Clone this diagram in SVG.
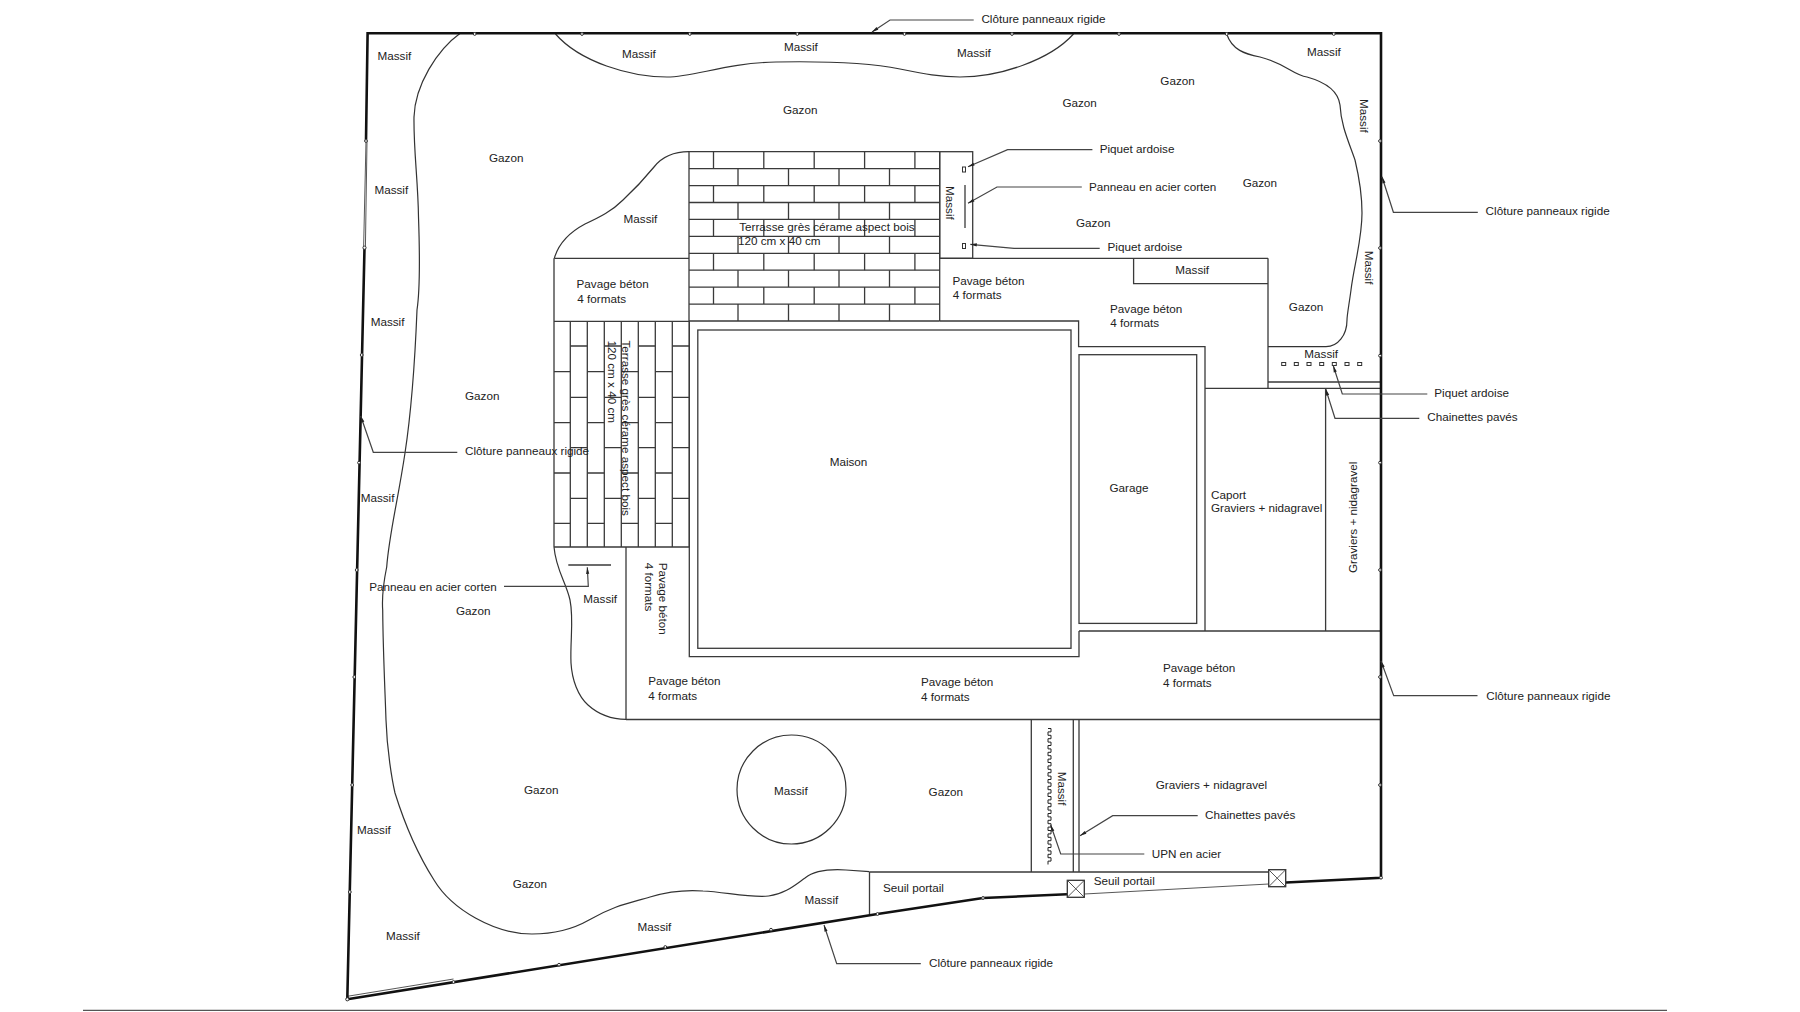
<svg xmlns="http://www.w3.org/2000/svg" width="1800" height="1012" viewBox="0 0 1800 1012">
<style>
text{font-family:"Liberation Sans",Arial,sans-serif;font-size:11.7px;fill:#222}
.w{fill:none;stroke:#3a3a3a;stroke-width:1.3}
.c{fill:none;stroke:#333;stroke-width:1.2}
.f{fill:none;stroke:#111;stroke-width:2.6}
.t{fill:none;stroke:#444;stroke-width:.9}
.l{fill:none;stroke:#444;stroke-width:1.2;marker-start:url(#ah)}
.p{fill:#fff;stroke:#333;stroke-width:1}
.g{fill:#fff;stroke:#333;stroke-width:1.3}
</style>
<defs>
<marker id="ah" markerWidth="8" markerHeight="6" refX="0" refY="2.5" orient="auto" markerUnits="userSpaceOnUse"><path d="M0 2.5L6.5 0.9V4.1z" fill="#222"/></marker>
</defs>
<rect width="1800" height="1012" fill="#fff"/>
<g id="bottom-rule"><path d="M83 1010.3H1667" fill="none" stroke="#555" stroke-width="1.2"/></g>

<g id="massif-beds">
<path class="c" d="M460.5 33C437 50 415 85 414 117C413.5 150 418 180 418.5 217C420 260 420 290 417 310C415 360 410 420 405 453C398 500 389 535 386.7 567C382 590 382 600 382.7 610C383 650 385 690 386 720C387 750 392 780 395 793C405 825 420 858 434 880C452 910 495 934 532 934C555 934 575 928 589 920C615 905 630 903 650 897C670 891 690 890 703 891C725 892 750 898 768.6 896C785 894 795 885 805 878C815 870 830 869 846 870L869.4 871.7"/>
<path class="c" d="M555.5 34C580 62 630 77 667 77C695 77 725 63 776 62C830 61 870 63 900 69C925 74 940 77 960 77C1000 77 1050 60 1073.5 34"/>
<path class="c" d="M1226.7 34C1232 50 1245 54 1260 57C1285 63 1293 75 1307 77C1325 82 1338 90 1340 105C1341 125 1348 140 1355 160C1361 185 1362 200 1362 213C1362 240 1354 265 1351 290C1349 305 1347 315 1347 320C1347 335 1338 346.7 1326 346.7L1268 346.7"/>
<path class="c" d="M554.3 258.3C559 242 570 232 585 224C600 217 612 211 623 200C637 187 645 178 654 167C662 157 672 151.7 689 151.7"/>
<path class="c" d="M554 547C556 570 566 582 570 600C574 620 570 640 571 663C572 680 578 696 588 705C598 714 612 719.3 626 719.3"/>
<circle class="c" cx="791.5" cy="789.5" r="54.5"/>
<text x="377.5" y="60">Massif</text>
<text x="622" y="57.5">Massif</text>
<text x="784" y="51">Massif</text>
<text x="957" y="56.5">Massif</text>
<text x="1307" y="56">Massif</text>
<text x="374.4" y="193.5">Massif</text>
<text x="370.7" y="326.2">Massif</text>
<text x="360.7" y="502">Massif</text>
<text x="357" y="834">Massif</text>
<text x="386" y="939.5">Massif</text>
<text x="637.6" y="931">Massif</text>
<text x="804.5" y="903.5">Massif</text>
<text x="773.9" y="794.5">Massif</text>
<text x="623.6" y="223">Massif</text>
<text x="583.3" y="603">Massif</text>
<text transform="translate(1360 99) rotate(90)">Massif</text>
<text transform="translate(1364.5 250.7) rotate(90)">Massif</text>
</g>

<g id="lawn-labels">
<text x="783" y="114.2">Gazon</text>
<text x="1160.3" y="85">Gazon</text>
<text x="1062.4" y="107.2">Gazon</text>
<text x="489" y="162">Gazon</text>
<text x="1242.7" y="187.2">Gazon</text>
<text x="1076" y="227.2">Gazon</text>
<text x="1288.8" y="311">Gazon</text>
<text x="465" y="400">Gazon</text>
<text x="456" y="615.2">Gazon</text>
<text x="524" y="794.2">Gazon</text>
<text x="928.6" y="796.2">Gazon</text>
<text x="512.7" y="887.7">Gazon</text>
</g>

<g id="terrasse-haut">
<path class="w" d="M689 151.7H939.7M689 168.6H939.7M689 185.6H939.7M689 202.5H939.7M689 219.4H939.7M689 236.4H939.7M689 253.3H939.7M689 270.2H939.7M689 287.1H939.7M689 304.1H939.7M689 321H939.7M689 151.7V321M939.7 151.7V321"/>
<path class="w" d="M713.5 151.7v16.9M763.8 151.7v16.9M814.2 151.7v16.9M864.6 151.7v16.9M914.9 151.7v16.9M738 168.6v17M788.5 168.6v17M839 168.6v17M889.5 168.6v17M713.5 185.6v16.9M763.8 185.6v16.9M814.2 185.6v16.9M864.6 185.6v16.9M914.9 185.6v16.9M738 202.5v16.9M788.5 202.5v16.9M839 202.5v16.9M889.5 202.5v16.9M713.5 219.4v17M763.8 219.4v17M814.2 219.4v17M864.6 219.4v17M914.9 219.4v17M738 236.4v16.9M788.5 236.4v16.9M839 236.4v16.9M889.5 236.4v16.9M713.5 253.3v16.9M763.8 253.3v16.9M814.2 253.3v16.9M864.6 253.3v16.9M914.9 253.3v16.9M738 270.2v16.9M788.5 270.2v16.9M839 270.2v16.9M889.5 270.2v16.9M713.5 287.1v17M763.8 287.1v17M814.2 287.1v17M864.6 287.1v17M914.9 287.1v17M738 304.1v16.9M788.5 304.1v16.9M839 304.1v16.9M889.5 304.1v16.9"/>
<text x="739.2" y="231">Terrasse grès cérame aspect bois</text>
<text x="738" y="244.7">120 cm x 40 cm</text>
</g>

<g id="terrasse-gauche">
<path class="w" d="M554 321.3H689.3M554 547H689.3M554 258.3V547M570.3 321.3V547M587.3 321.3V547M604.3 321.3V547M621.3 321.3V547M638.3 321.3V547M655.3 321.3V547M672.3 321.3V547M689.3 321.3V547"/>
<path class="w" d="M554 371.7h16.3M554 422.7h16.3M554 473h16.3M554 523.3h16.3M587.3 371.7h17M587.3 422.7h17M587.3 473h17M587.3 523.3h17M621.3 371.7h17M621.3 422.7h17M621.3 473h17M621.3 523.3h17M655.3 371.7h17M655.3 422.7h17M655.3 473h17M655.3 523.3h17M570.3 346h17M570.3 397.3h17M570.3 447.7h17M570.3 498.3h17M604.3 346h17M604.3 397.3h17M604.3 447.7h17M604.3 498.3h17M638.3 346h17M638.3 397.3h17M638.3 447.7h17M638.3 498.3h17M672.3 346h17M672.3 397.3h17M672.3 447.7h17M672.3 498.3h17"/>
<text transform="translate(622.3 340.5) rotate(90)">Terrasse grès cérame aspect bois</text>
<text transform="translate(608.3 340.5) rotate(90)">120 cm x 40 cm</text>
</g>

<g id="pavage">
<path class="w" d="M554.3 258.3H689M939.7 258.3H1268M1268 258.3V388.3M626 547V719.5M626 719.5H1381M1079 631H1381"/>
<path class="w" d="M1133.6 258.3V283.7H1268"/>
<text x="576.5" y="288.2">Pavage béton</text><text x="577.3" y="302.7">4 formats</text>
<text x="952.4" y="284.5">Pavage béton</text><text x="952.8" y="298.7">4 formats</text>
<text x="1110" y="313.2">Pavage béton</text><text x="1110.3" y="327">4 formats</text>
<text x="1175.3" y="274.2">Massif</text>
<text transform="translate(659 562.7) rotate(90)">Pavage béton</text>
<text transform="translate(644.6 562.7) rotate(90)">4 formats</text>
<text x="648.3" y="685.2">Pavage béton</text><text x="648.3" y="699.7">4 formats</text>
<text x="921" y="685.5">Pavage béton</text><text x="921" y="700.5">4 formats</text>
<text x="1163" y="671.7">Pavage béton</text><text x="1163" y="686.5">4 formats</text>
</g>

<g id="massif-piquets">
<rect class="w" x="939.7" y="151.7" width="33" height="106.6"/>
<path class="w" d="M965 185V228"/>
<rect class="p" x="962.5" y="167" width="3" height="5"/>
<rect class="p" x="962.5" y="243.5" width="3" height="5"/>
<text transform="translate(946.2 186) rotate(90)">Massif</text>
</g>

<g id="maison">
<rect class="w" x="697.8" y="330" width="373.2" height="318.3"/>
<path class="w" d="M939.7 321H1078.6V346.7H1205V631M689.3 321.3V656.7H1079V631"/>
<text x="829.7" y="466.2">Maison</text>
</g>

<g id="garage">
<rect class="w" x="1079" y="354.7" width="117.7" height="268.7"/>
<text x="1109.5" y="492">Garage</text>
</g>

<g id="carport">
<path class="w" d="M1205 388.3H1381M1268 382H1381M1325.6 388.3V631"/>
<text x="1211" y="498.5">Caport</text>
<text x="1211" y="512">Graviers + nidagravel</text>
<text transform="translate(1357 573) rotate(-90)">Graviers + nidagravel</text>
<text x="1304.3" y="358">Massif</text>
<g fill="#fff" stroke="#333" stroke-width="1"><rect x="1281.7" y="362.5" width="4" height="3"/><rect x="1294.3" y="362.5" width="4" height="3"/><rect x="1307" y="362.5" width="4" height="3"/><rect x="1319.7" y="362.5" width="4" height="3"/><rect x="1332.3" y="362.5" width="4" height="3"/><rect x="1345" y="362.5" width="4" height="3"/><rect x="1357.7" y="362.5" width="4" height="3"/></g>
</g>

<g id="allee">
<path class="w" d="M1031.3 719.5V872M1073.3 719.5V872M1079 719.5V872M869.4 872H1269M869.5 872V914"/>
<path fill="none" stroke="#222" stroke-width="1" d="M1048 728.5h3v3.4h-3v3.4 h3v3.4h-3v3.4 h3v3.4h-3v3.4 h3v3.4h-3v3.4 h3v3.4h-3v3.4 h3v3.4h-3v3.4 h3v3.4h-3v3.4 h3v3.4h-3v3.4 h3v3.4h-3v3.4 h3v3.4h-3v3.4 h3v3.4h-3v3.4 h3v3.4h-3v3.4 h3v3.4h-3v3.4 h3v3.4h-3v3.4 h3v3.4h-3v3.4 h3v3.4h-3v3.4 h3v3.4h-3v3.4 h3v3.4h-3v3.4 h3v3.4h-3v3.4 h3v3.4h-3v3.4"/>
<text transform="translate(1057.7 771.7) rotate(90)">Massif</text>
<text x="1155.7" y="789">Graviers + nidagravel</text>
<text x="882.9" y="892">Seuil portail</text>
<text x="1093.7" y="885">Seuil portail</text>
</g>

<g id="cloture">
<path class="t" d="M347.3 996.3L453.5 979M1084.3 894L1268.7 884M366 141L363.6 248M367 141L365.4 248"/>
<path class="f" d="M366 141L367.6 33.3H1381V877.7L1286 882.5M1067 894.3L983 898L877.5 914L347.3 999.3L364.5 248"/>
<g class="p">
<circle cx="474.7" cy="34" r="1.4"/><circle cx="582" cy="34" r="1.4"/><circle cx="689.8" cy="34" r="1.4"/><circle cx="797.3" cy="34" r="1.4"/><circle cx="904.5" cy="34" r="1.4"/><circle cx="1012" cy="34" r="1.4"/><circle cx="1119" cy="34" r="1.4"/><circle cx="1226.7" cy="34" r="1.4"/><circle cx="1333.8" cy="34" r="1.4"/>
<circle cx="1380" cy="141" r="1.4"/><circle cx="1380" cy="248" r="1.4"/><circle cx="1380" cy="355.7" r="1.4"/><circle cx="1380" cy="462.7" r="1.4"/><circle cx="1380" cy="570" r="1.4"/><circle cx="1380" cy="677" r="1.4"/><circle cx="1380" cy="785" r="1.4"/><circle cx="1381" cy="877.7" r="1.4"/>
<circle cx="366" cy="141" r="1.4"/><circle cx="364.5" cy="247.7" r="1.6"/><circle cx="361.7" cy="355" r="1.4"/><circle cx="359" cy="462.7" r="1.4"/><circle cx="356.7" cy="570" r="1.4"/><circle cx="354.3" cy="677" r="1.4"/><circle cx="352.2" cy="785" r="1.4"/><circle cx="349.8" cy="892" r="1.4"/><circle cx="347.3" cy="999.3" r="1.6"/>
<circle cx="453.5" cy="982" r="1.4"/><circle cx="559" cy="964.7" r="1.4"/><circle cx="665.3" cy="947" r="1.4"/><circle cx="771" cy="929.7" r="1.4"/><circle cx="877.5" cy="914" r="1.4"/><circle cx="983" cy="898" r="1.4"/>
</g>
</g>

<g id="portail-1"><rect class="g" x="1067.3" y="880.3" width="17" height="17"/><path class="t" d="M1067.3 880.3L1084.3 897.3M1084.3 880.3L1067.3 897.3"/></g>
<g id="portail-2"><rect class="g" x="1268.7" y="869.7" width="17" height="17"/><path class="t" d="M1268.7 869.7L1285.7 886.7M1285.7 869.7L1268.7 886.7"/></g>

<g id="connectors">
<polyline class="l" points="872,32 890,20 973.7,20"/>
<polyline class="l" points="1382,176.7 1393.4,212.3 1477.8,212.3"/>
<polyline class="l" points="968,166.7 1007.6,149.7 1092.4,149.7"/>
<polyline class="l" points="968,203.3 997,187 1081.8,187"/>
<polyline class="l" points="970.3,244.3 1014,248.3 1099.7,248.3"/>
<polyline class="l" points="1333.3,365.7 1342.3,394 1427.3,394"/>
<polyline class="l" points="1325.7,389 1335,418.3 1419.3,418.3"/>
<polyline class="l" points="1381,661 1393.7,695.7 1477.5,695.7"/>
<polyline class="l" points="360.7,416 373.3,452.3 457.3,452.3"/>
<path class="w" d="M568.3 565H611"/>
<polyline class="l" points="587.3,567.3 588.3,586.3 504,586.3"/>
<polyline class="l" points="1080,835.7 1112.7,815.7 1197.7,815.7"/>
<polyline class="l" points="1050.7,825 1060.7,854 1144.3,854"/>
<polyline class="l" points="824,925 836.7,963.7 920.8,963.7"/>
</g>

<g id="callouts">
<text x="981.4" y="23">Clôture panneaux rigide</text>
<text x="1485.6" y="215.2">Clôture panneaux rigide</text>
<text x="1099.7" y="152.7">Piquet ardoise</text>
<text x="1089" y="191">Panneau en acier corten</text>
<text x="1107.5" y="250.7">Piquet ardoise</text>
<text x="1434.3" y="397">Piquet ardoise</text>
<text x="1427.3" y="421">Chainettes pavés</text>
<text x="1486.3" y="700">Clôture panneaux rigide</text>
<text x="465" y="455.3">Clôture panneaux rigide</text>
<text x="369.3" y="590.7">Panneau en acier corten</text>
<text x="1205" y="818.7">Chainettes pavés</text>
<text x="1151.7" y="858">UPN en acier</text>
<text x="929" y="967">Clôture panneaux rigide</text>
</g>
</svg>
